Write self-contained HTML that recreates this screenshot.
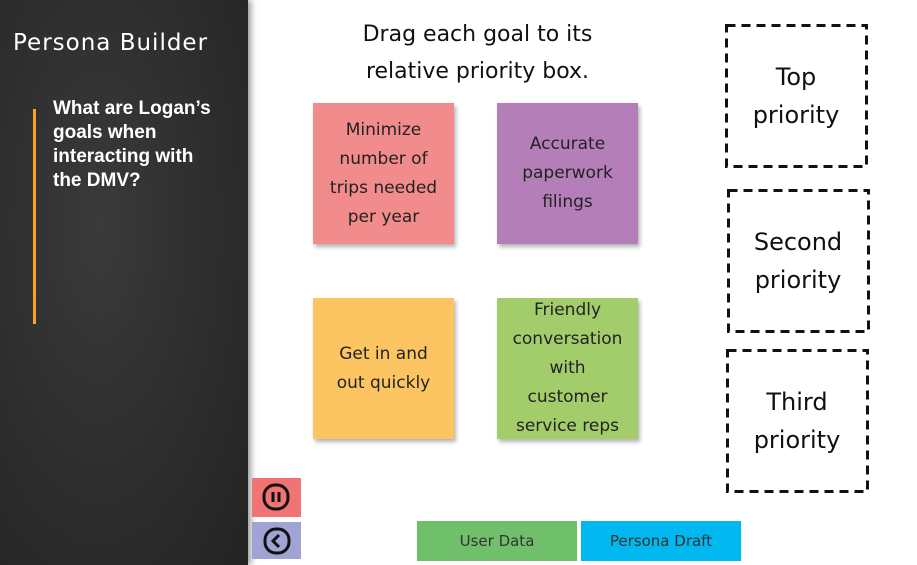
<!DOCTYPE html>
<html><head><style>
body{margin:0;width:917px;height:565px;background:#fff;position:relative;overflow:hidden;font-family:"DejaVu Sans","Liberation Sans",sans-serif;}
.a{position:absolute;}
.side{left:0;top:0;width:248px;height:565px;background:radial-gradient(ellipse at 40% 40%,#3a3a3a,#232323);box-shadow:3px 0 6px rgba(0,0,0,.4);}
.note{width:141px;height:141px;display:flex;align-items:center;justify-content:center;text-align:center;font-size:17px;line-height:29px;color:#222;box-shadow:2px 3px 4px rgba(0,0,0,.3);}
.box{display:flex;align-items:center;justify-content:center;text-align:center;font-size:24px;line-height:38px;color:#111;box-sizing:border-box;}
.btn{display:flex;align-items:center;justify-content:center;font-size:15px;color:#333;}
</style></head><body>
<div class="a side"></div>
<div class="a" style="left:13px;top:30px;color:#fff;font-size:23px;letter-spacing:1px">Persona Builder</div>
<div class="a" style="left:33px;top:109px;width:3px;height:215px;background:#f5a623"></div>
<div class="a" style="left:53px;top:97px;color:#fff;font-family:'Liberation Sans',sans-serif;font-weight:bold;font-size:19px;line-height:24px;width:168px">What are Logan’s goals when interacting with the DMV?</div>
<div class="a" style="left:300px;top:16px;width:355px;text-align:center;font-size:22px;line-height:37px;color:#111">Drag each goal to its<br>relative priority box.</div>
<div class="a note" style="left:313px;top:103px;background:#f28b8b">Minimize<br>number of<br>trips needed<br>per year</div>
<div class="a note" style="left:497px;top:103px;background:#b47fb9">Accurate<br>paperwork<br>filings</div>
<div class="a note" style="left:313px;top:298px;background:#fcc562">Get in and<br>out quickly</div>
<div class="a note" style="left:497px;top:298px;background:#a3cd6a">Friendly<br>conversation<br>with<br>customer<br>service reps</div>
<svg class="a" style="left:0;top:0" width="917" height="565"><g fill="none" stroke="#111" stroke-width="3" stroke-dasharray="9,6">
<rect x="726.5" y="25.5" width="140" height="141"/>
<rect x="728.5" y="190.5" width="140" height="141"/>
<rect x="727.5" y="350.5" width="140" height="141"/></g></svg>
<div class="a box" style="left:725px;top:24px;width:142px;height:143px">Top<br>priority</div>
<div class="a box" style="left:727px;top:189px;width:142px;height:143px">Second<br>priority</div>
<div class="a box" style="left:726px;top:349px;width:142px;height:143px">Third<br>priority</div>
<div class="a" style="left:252px;top:478px;width:49px;height:39px;background:#f07474"></div>
<svg class="a" style="left:261px;top:482px" width="30" height="30"><rect x="3" y="3" width="24" height="24" rx="11" fill="none" stroke="#111" stroke-width="3"/><line x1="12" y1="10" x2="12" y2="20" stroke="#111" stroke-width="3"/><line x1="18" y1="10" x2="18" y2="20" stroke="#111" stroke-width="3"/></svg>
<div class="a" style="left:252px;top:522px;width:49px;height:37px;background:#a0a4d4"></div>
<svg class="a" style="left:262px;top:526px" width="30" height="30"><rect x="3" y="3" width="24" height="24" rx="11" fill="none" stroke="#111" stroke-width="3"/><polyline points="17,9 11,15 17,21" fill="none" stroke="#111" stroke-width="3"/></svg>
<div class="a btn" style="left:417px;top:521px;width:160px;height:40px;background:#6fbf6b">User Data</div>
<div class="a btn" style="left:581px;top:521px;width:160px;height:40px;background:#00b7ef">Persona Draft</div>
</body></html>
